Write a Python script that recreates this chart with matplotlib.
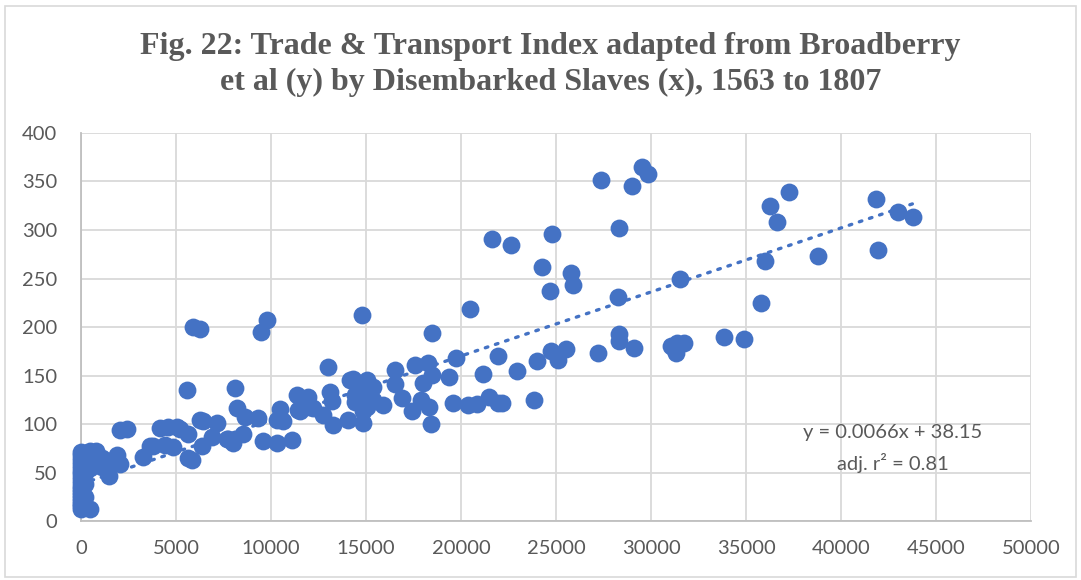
import matplotlib.pyplot as plt
from matplotlib.patches import Rectangle
import numpy as np

# disembarked slaves (x) and trade & transport index (y)
x_vals = [0, 0, 0, 0, 0, 0, 0, 0, 0, 0, 0, 0, 0, 0, 0, 0, 0, 0,
          200, 200, 200, 200, 200, 200, 500, 500, 500, 500, 800, 800, 800,
          1100, 1100, 1500, 1500, 1900, 2050,
          2052, 2403, 3280, 3631, 3807, 4158, 4421, 4596, 4859, 5034, 5210,
          5579, 5647, 5647, 5824, 5912, 6263, 6263, 6350, 6437, 6876, 7140,
          7667, 7754, 8017, 8123, 8193, 8543, 8631, 9333, 9473, 9596, 9771,
          10298, 10298, 10473, 10648, 11087, 11350, 11438, 11526, 11964, 12052,
          12200, 12754, 13017, 13105, 13193, 13280, 14070, 14158, 14333, 14420,
          14420, 14684, 14806, 14859, 14859, 15034, 15034, 15122, 15385, 15385,
          15877, 16526, 16526, 16877, 17403, 17578, 17876, 18017, 18280, 18333,
          18403, 18456, 18456, 19385, 19596, 19736, 20385, 20473, 20824, 21175,
          21490, 21631, 21964, 21964, 22140, 22614, 22964, 23859, 23982, 24263,
          24684, 24736, 24789, 25122, 25526, 25771, 25877, 27228, 27350, 28263,
          28315, 28333, 28333, 28982, 29122, 29508, 29859, 31035, 31263, 31315,
          31350, 31526, 31736, 33840, 34894, 35771, 36017, 36263, 36649, 37280,
          38806, 41842, 41964, 42982, 43771]
y_vals = [12, 15, 18, 21, 24, 27, 30, 33, 36, 40, 44, 48, 52, 56, 60, 64, 68, 71,
          14, 25, 38, 50, 62, 70, 12, 55, 66, 72, 60, 68, 72,
          56, 65, 46, 62, 68, 59,
          94, 95, 66, 77, 77, 96, 78, 97, 76, 97, 95,
          135, 90, 65, 63, 200, 198, 104, 77, 103, 87, 101,
          85, 85, 80, 137, 116, 90, 107, 106, 195, 82, 207,
          80, 104, 115, 103, 84, 130, 114, 113, 128, 118,
          117, 109, 159, 133, 124, 99, 104, 145, 146, 130,
          123, 135, 212, 113, 101, 145, 118, 132, 138, 125,
          120, 156, 141, 127, 113, 161, 125, 142, 163, 118,
          100, 194, 151, 148, 122, 168, 120, 219, 121, 152,
          128, 291, 170, 122, 122, 285, 155, 125, 165, 262,
          237, 175, 296, 166, 177, 256, 243, 173, 352, 231,
          302, 193, 186, 345, 178, 365, 358, 180, 176, 173,
          183, 249, 184, 190, 188, 225, 268, 325, 308, 339,
          273, 332, 279, 319, 313]

# linear trend as printed on the chart
slope = 0.0066
intercept = 38.15

x_ticks = [0, 5000, 10000, 15000, 20000, 25000, 30000, 35000, 40000, 45000, 50000]
y_ticks = [0, 50, 100, 150, 200, 250, 300, 350, 400]

blue = '#4472C4'
grey_text = '#595959'

fig = plt.figure(figsize=(10.81, 5.8), dpi=100)
ax = fig.add_axes([0.0749, 0.1017, 0.879, 0.669])

ax.scatter(x_vals, y_vals, s=165, color=blue, linewidths=0, zorder=3, clip_on=False)

trend_x = np.array([min(x_vals), max(x_vals)])
ax.plot(trend_x, slope * trend_x + intercept, color=blue, linewidth=2.4,
        linestyle=(0, (0.8, 2.4)), dash_capstyle='round', zorder=4)

ax.set_xlim(0, 50000)
ax.set_ylim(0, 400)
ax.set_xticks(x_ticks)
ax.set_yticks(y_ticks)
ax.grid(True, color='#D9D9D9', linewidth=1.3, zorder=0)
ax.set_axisbelow(True)
for side in ['top', 'right']:
    ax.spines[side].set_visible(False)
for side in ['left', 'bottom']:
    ax.spines[side].set_color('#BFBFBF')
    ax.spines[side].set_linewidth(1.3)
ax.tick_params(length=0, labelsize=14.5, labelcolor=grey_text)
ax.tick_params(axis='y', pad=17)
ax.tick_params(axis='x', pad=14)
for lab in ax.get_xticklabels() + ax.get_yticklabels():
    lab.set_family('Lato')

fig.text(0.509, 0.919, 'Fig. 22: Trade & Transport Index adapted from Broadberry',
         ha='center', va='center', fontsize=23, fontweight='bold',
         family='Liberation Serif', color=grey_text)
fig.text(0.509, 0.858, 'et al (y) by Disembarked Slaves (x), 1563 to 1807',
         ha='center', va='center', fontsize=23, fontweight='bold',
         family='Liberation Serif', color=grey_text)

ax.text(0.854, 0.227, 'y = 0.0066x + 38.15', transform=ax.transAxes,
        ha='center', va='center', fontsize=14.5, family='Lato', color=grey_text)
ax.text(0.854, 0.149, 'adj. r² = 0.81', transform=ax.transAxes,
        ha='center', va='center', fontsize=14.5, family=['Lato', 'DejaVu Sans'],
        color=grey_text)

fig.patches.append(Rectangle((0.005, 0.005), 0.99, 0.985, transform=fig.transFigure,
                             fill=False, edgecolor='#D9D9D9', linewidth=1.2))

fig.savefig('out.png', dpi=100)
